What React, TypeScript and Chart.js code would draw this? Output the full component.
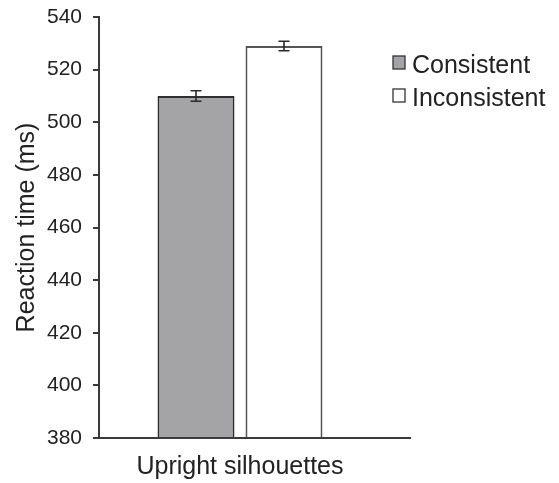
import React, { useEffect, useRef } from "react";
import { Chart, registerables } from "chart.js";

Chart.register(...registerables);

const categories = ["Upright silhouettes"];
const seriesNames = ["Consistent", "Inconsistent"];
const consistentValues = [510];
const inconsistentValues = [529];
const consistentErrors = [2];
const inconsistentErrors = [1.8];
const yTicks = [380, 400, 420, 440, 460, 480, 500, 520, 540];
const yTitle = "Reaction time (ms)";

const FONT = "'Liberation Sans', Arial, Helvetica, sans-serif";
const AXIS = "#3a3a3a";
const fills = ["#a4a4a6", "#ffffff"];

const errorBarPlugin = {
  id: "errorBars",
  afterDatasetsDraw(chart: any) {
    const ctx = chart.ctx;
    const ys = chart.scales.y;
    const errs = [consistentErrors, inconsistentErrors];
    ctx.save();
    ctx.strokeStyle = "#2a2a2a";
    ctx.lineWidth = 1.6;
    chart.data.datasets.forEach((ds: any, di: number) => {
      const meta = chart.getDatasetMeta(di);
      meta.data.forEach((bar: any, i: number) => {
        const v = ds.data[i];
        const e = errs[di][i];
        const x = bar.x;
        const y1 = ys.getPixelForValue(v + e);
        const y2 = ys.getPixelForValue(v - e);
        const w = 5.5;
        ctx.beginPath();
        ctx.moveTo(x, y1);
        ctx.lineTo(x, y2);
        ctx.moveTo(x - w, y1);
        ctx.lineTo(x + w, y1);
        ctx.moveTo(x - w, y2);
        ctx.lineTo(x + w, y2);
        ctx.stroke();
      });
    });
    ctx.restore();
  },
};

const axisLinePlugin = {
  id: "axisLine",
  afterDraw(chart: any) {
    const { ctx, chartArea } = chart;
    ctx.save();
    ctx.strokeStyle = AXIS;
    ctx.lineWidth = 2;
    ctx.beginPath();
    ctx.moveTo(chartArea.left - 6, chartArea.bottom);
    ctx.lineTo(chartArea.right + 30, chartArea.bottom);
    ctx.stroke();
    ctx.restore();
  },
};

const legendPlugin = {
  id: "customLegend",
  afterDraw(chart: any) {
    const { ctx, chartArea } = chart;
    const x0 = chartArea.right + 12;
    const ys = chart.scales.y;
    ctx.save();
    ctx.font = `25px ${FONT}`;
    ctx.textBaseline = "middle";
    seriesNames.forEach((name, i) => {
      const cy = ys.top + 46 + i * 33;
      ctx.fillStyle = fills[i];
      ctx.fillRect(x0, cy - 7, 12, 13);
      ctx.strokeStyle = "#333";
      ctx.lineWidth = 1.3;
      ctx.strokeRect(x0, cy - 7, 12, 13);
      ctx.fillStyle = "#222";
      ctx.fillText(name, x0 + 19, cy + 3);
    });
    ctx.restore();
  },
};

export default function App() {
  const ref = useRef<HTMLCanvasElement | null>(null);
  useEffect(() => {
    if (!ref.current) return;
    const chart = new Chart(ref.current, {
      type: "bar",
      data: {
        labels: categories,
        datasets: [
          {
            label: seriesNames[0],
            data: consistentValues,
            backgroundColor: fills[0],
            borderColor: "#2e2e2e",
            borderWidth: 2,
            categoryPercentage: 0.624,
            barPercentage: 0.875,
          },
          {
            label: seriesNames[1],
            data: inconsistentValues,
            backgroundColor: fills[1],
            borderColor: "#555",
            borderWidth: 2,
            categoryPercentage: 0.624,
            barPercentage: 0.875,
          },
        ],
      },
      options: {
        animation: false,
        responsive: false,
        devicePixelRatio: 1,
        layout: { padding: { top: 17, right: 178, bottom: 0, left: 12 } },
        plugins: { legend: { display: false }, tooltip: { enabled: false } },
        scales: {
          x: {
            grid: { display: false, drawTicks: false },
            border: { display: false },
            ticks: { color: "#222", font: { family: FONT, size: 25 }, padding: 14 },
            afterFit: (scale: any) => {
              scale.height = 45;
              scale.paddingLeft = 0;
              scale.paddingRight = 0;
            },
          },
          y: {
            min: 380,
            max: 540,
            afterBuildTicks: (scale: any) => {
              scale.ticks = yTicks.map((v) => ({ value: v }));
            },
            afterFit: (scale: any) => {
              scale.width = 87;
              scale.paddingTop = 0;
              scale.paddingBottom = 0;
            },
            grid: { display: true, drawOnChartArea: false, drawTicks: true, tickLength: 6, color: AXIS, lineWidth: 2 },
            border: { display: true, color: AXIS, width: 2 },
            ticks: { color: "#222", font: { family: FONT, size: 21 }, padding: 11 },
            title: { display: true, text: yTitle, color: "#222", font: { family: FONT, size: 25 }, padding: { top: 0, bottom: 5 } },
          },
        },
      },
      plugins: [errorBarPlugin, axisLinePlugin, legendPlugin],
    });
    return () => chart.destroy();
  }, []);
  return (
    <div style={{ position: "fixed", left: 0, top: 0, width: 559, height: 483, background: "#fff" }}>
      <canvas ref={ref} width={559} height={483} style={{ width: 559, height: 483 }} />
    </div>
  );
}
